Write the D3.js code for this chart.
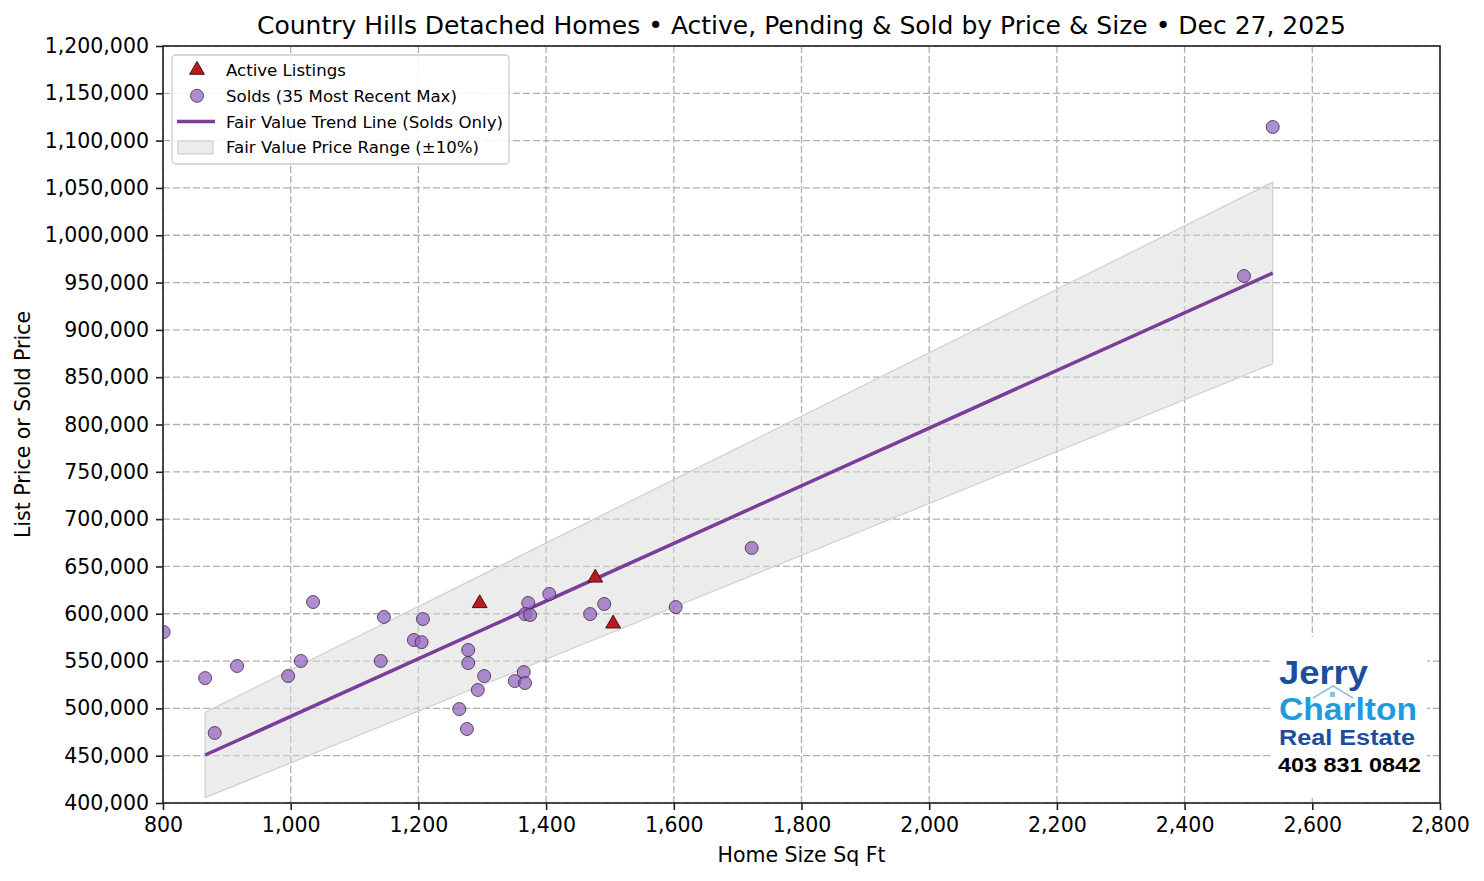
<!DOCTYPE html>
<html>
<head>
<meta charset="utf-8">
<script src="https://cdn.jsdelivr.net/npm/d3@7"></script>
<style>
  body { margin: 0; background: #fff; }
  svg { display: block; font-family: "DejaVu Sans", sans-serif; }
</style>
</head>
<body>
<script>
// solds: home size sq ft / sold price
const soldSize = [801, 866, 881, 916, 996, 1016, 1035, 1146, 1141, 1193, 1205, 1207,
  1278, 1278, 1303, 1293, 1264, 1276, 1351, 1365, 1367, 1372, 1367, 1375,
  1405, 1469, 1491, 1603, 1722, 2493, 2538];
const soldPrice = [580700, 532000, 474000, 544800, 534200, 550100, 612400, 596600, 550100, 572300, 570000, 594400,
  561700, 547900, 534200, 519400, 499300, 478200, 528900, 538400, 526800, 611400, 599700, 598700,
  620900, 599700, 610300, 607100, 669500, 956900, 1114400];

// active listings
const activeSize = [1296, 1477, 1505];
const activePrice = [611000, 638000, 589500];

// fair value trend line end points (solds only)
const trendSize = [866, 2538];
const trendPrice = [450700, 960100];
const bandPct = 0.10;

const xTicks = [800, 1000, 1200, 1400, 1600, 1800, 2000, 2200, 2400, 2600, 2800];
const yTicks = d3.range(400000, 1200001, 50000);

const W = 1484, H = 881;
const margin = { left: 163, right: 44, top: 46, bottom: 78 };
const pw = W - margin.left - margin.right;
const ph = H - margin.top - margin.bottom;

const svg = d3.select('body').append('svg')
  .attr('width', W)
  .attr('height', H);

const x = d3.scaleLinear().domain([800, 2800]).range([margin.left, margin.left + pw]);
const y = d3.scaleLinear().domain([400000, 1200000]).range([margin.top + ph, margin.top]);
const fmt = d3.format(',');

// clip for marks
svg.append('clipPath').attr('id', 'plotclip')
  .append('rect').attr('x', margin.left).attr('y', margin.top).attr('width', pw).attr('height', ph);

// grid
const grid = svg.append('g').attr('stroke', '#b0b0b0').attr('stroke-width', 1.3)
  .attr('stroke-dasharray', '7,3');
grid.selectAll('.gx').data(xTicks).enter().append('line')
  .attr('x1', d => x(d)).attr('x2', d => x(d))
  .attr('y1', margin.top).attr('y2', margin.top + ph);
grid.selectAll('.gy').data(yTicks).enter().append('line')
  .attr('y1', d => y(d)).attr('y2', d => y(d))
  .attr('x1', margin.left).attr('x2', margin.left + pw);

const plot = svg.append('g').attr('clip-path', 'url(#plotclip)');

// fair value band
const trend = trendSize.map((s, i) => ({ s: s, p: trendPrice[i] }));
const band = d3.area()
  .x(d => x(d.s))
  .y0(d => y(d.p * (1 - bandPct)))
  .y1(d => y(d.p * (1 + bandPct)));
plot.append('path').datum(trend)
  .attr('d', d => band(d) )
  .attr('fill', '#d9d9d9').attr('fill-opacity', 0.5)
  .attr('stroke', '#cfcfcf').attr('stroke-width', 1.2);

// trend line
plot.append('path').datum(trend)
  .attr('d', d3.line().x(d => x(d.s)).y(d => y(d.p)))
  .attr('fill', 'none').attr('stroke', '#7a3d9c').attr('stroke-width', 3.5);

// solds
const solds = soldSize.map((s, i) => ({ s: s, p: soldPrice[i] }));
plot.selectAll('.sold').data(solds).enter().append('circle')
  .attr('cx', d => x(d.s)).attr('cy', d => y(d.p)).attr('r', 6.5)
  .attr('fill', '#9467bd').attr('fill-opacity', 0.75)
  .attr('stroke', '#3a2a48').attr('stroke-opacity', 0.8).attr('stroke-width', 1);

// actives
const tri = d3.symbol().type(d3.symbolTriangle).size(95);
const actives = activeSize.map((s, i) => ({ s: s, p: activePrice[i] }));
plot.selectAll('.active').data(actives).enter().append('path')
  .attr('d', tri)
  .attr('transform', d => `translate(${x(d.s)},${y(d.p)})`)
  .attr('fill', '#b81c22').attr('stroke', '#4a1010').attr('stroke-width', 1);

// logo (white backing box)
const logo = svg.append('g').attr('font-family', 'Liberation Sans, Arial, sans-serif').attr('font-weight', 'bold');
logo.append('rect').attr('x', 1270).attr('y', 637).attr('width', 157).attr('height', 161).attr('fill', '#fff');
logo.append('text').attr('x', 1279).attr('y', 684).text('Jerry')
  .attr('font-size', 33).attr('fill', '#1b4f9e').attr('textLength', 89).attr('lengthAdjust', 'spacingAndGlyphs');
logo.append('polyline').attr('points', '1313,698 1333,686 1353,698')
  .attr('fill', 'none').attr('stroke', '#8cc4e8').attr('stroke-width', 1.6);
logo.append('rect').attr('x', 1330).attr('y', 692).attr('width', 5).attr('height', 5).attr('fill', '#8cc4e8');
logo.append('text').attr('x', 1279).attr('y', 720).text('Charlton')
  .attr('font-size', 32).attr('fill', '#1e9be0').attr('textLength', 138).attr('lengthAdjust', 'spacingAndGlyphs');
logo.append('text').attr('x', 1279).attr('y', 745).text('Real Estate')
  .attr('font-size', 22).attr('fill', '#1b4f9e').attr('textLength', 136).attr('lengthAdjust', 'spacingAndGlyphs');
logo.append('text').attr('x', 1278).attr('y', 772).text('403 831 0842')
  .attr('font-size', 21).attr('fill', '#000').attr('textLength', 143).attr('lengthAdjust', 'spacingAndGlyphs');

// axes
const xAxis = svg.append('g').attr('transform', `translate(0,${margin.top + ph})`)
  .call(d3.axisBottom(x).tickValues(xTicks).tickFormat(fmt).tickSize(7).tickPadding(7));
const yAxis = svg.append('g').attr('transform', `translate(${margin.left},0)`)
  .call(d3.axisLeft(y).tickValues(yTicks).tickFormat(fmt).tickSize(7).tickPadding(7));
[xAxis, yAxis].forEach(a => {
  a.select('.domain').remove();
  a.selectAll('line').attr('stroke', '#222').attr('stroke-width', 1.6);
  a.selectAll('text').attr('font-size', 20.5).attr('fill', '#000')
    .attr('font-family', 'DejaVu Sans, sans-serif');
});

// spines
svg.append('rect').attr('x', margin.left).attr('y', margin.top).attr('width', pw).attr('height', ph)
  .attr('fill', 'none').attr('stroke', '#222').attr('stroke-width', 1.6);

// labels
svg.append('text').attr('x', margin.left + pw / 2).attr('y', 34).attr('text-anchor', 'middle')
  .attr('font-size', 25).text('Country Hills Detached Homes • Active, Pending & Sold by Price & Size • Dec 27, 2025');
svg.append('text').attr('x', margin.left + pw / 2).attr('y', 862).attr('text-anchor', 'middle')
  .attr('font-size', 20.5).text('Home Size Sq Ft');
svg.append('text').attr('transform', `translate(30,${margin.top + ph / 2}) rotate(-90)`)
  .attr('text-anchor', 'middle').attr('font-size', 20.5).text('List Price or Sold Price');

// legend
const leg = svg.append('g');
leg.append('rect').attr('x', 172).attr('y', 55).attr('width', 337).attr('height', 109).attr('rx', 4)
  .attr('fill', '#fff').attr('fill-opacity', 0.85).attr('stroke', '#cccccc').attr('stroke-width', 1.3);
const legItems = ['Active Listings', 'Solds (35 Most Recent Max)', 'Fair Value Trend Line (Solds Only)', 'Fair Value Price Range (±10%)'];
legItems.forEach((t, i) => {
  const cy = 70 + i * 25.8;
  leg.append('text').attr('x', 226).attr('y', cy + 6).attr('font-size', 16.6).text(t);
});
leg.append('path').attr('d', tri).attr('transform', 'translate(197,70)')
  .attr('fill', '#b81c22').attr('stroke', '#4a1010').attr('stroke-width', 1);
leg.append('circle').attr('cx', 197).attr('cy', 95.8).attr('r', 6.5)
  .attr('fill', '#9467bd').attr('fill-opacity', 0.75)
  .attr('stroke', '#3a2a48').attr('stroke-opacity', 0.8);
leg.append('line').attr('x1', 177).attr('x2', 215).attr('y1', 121.6).attr('y2', 121.6)
  .attr('stroke', '#7a3d9c').attr('stroke-width', 3.5);
leg.append('rect').attr('x', 178).attr('y', 141).attr('width', 35).attr('height', 13)
  .attr('fill', '#d9d9d9').attr('fill-opacity', 0.5).attr('stroke', '#c8c8c8');
</script>
</body>
</html>
